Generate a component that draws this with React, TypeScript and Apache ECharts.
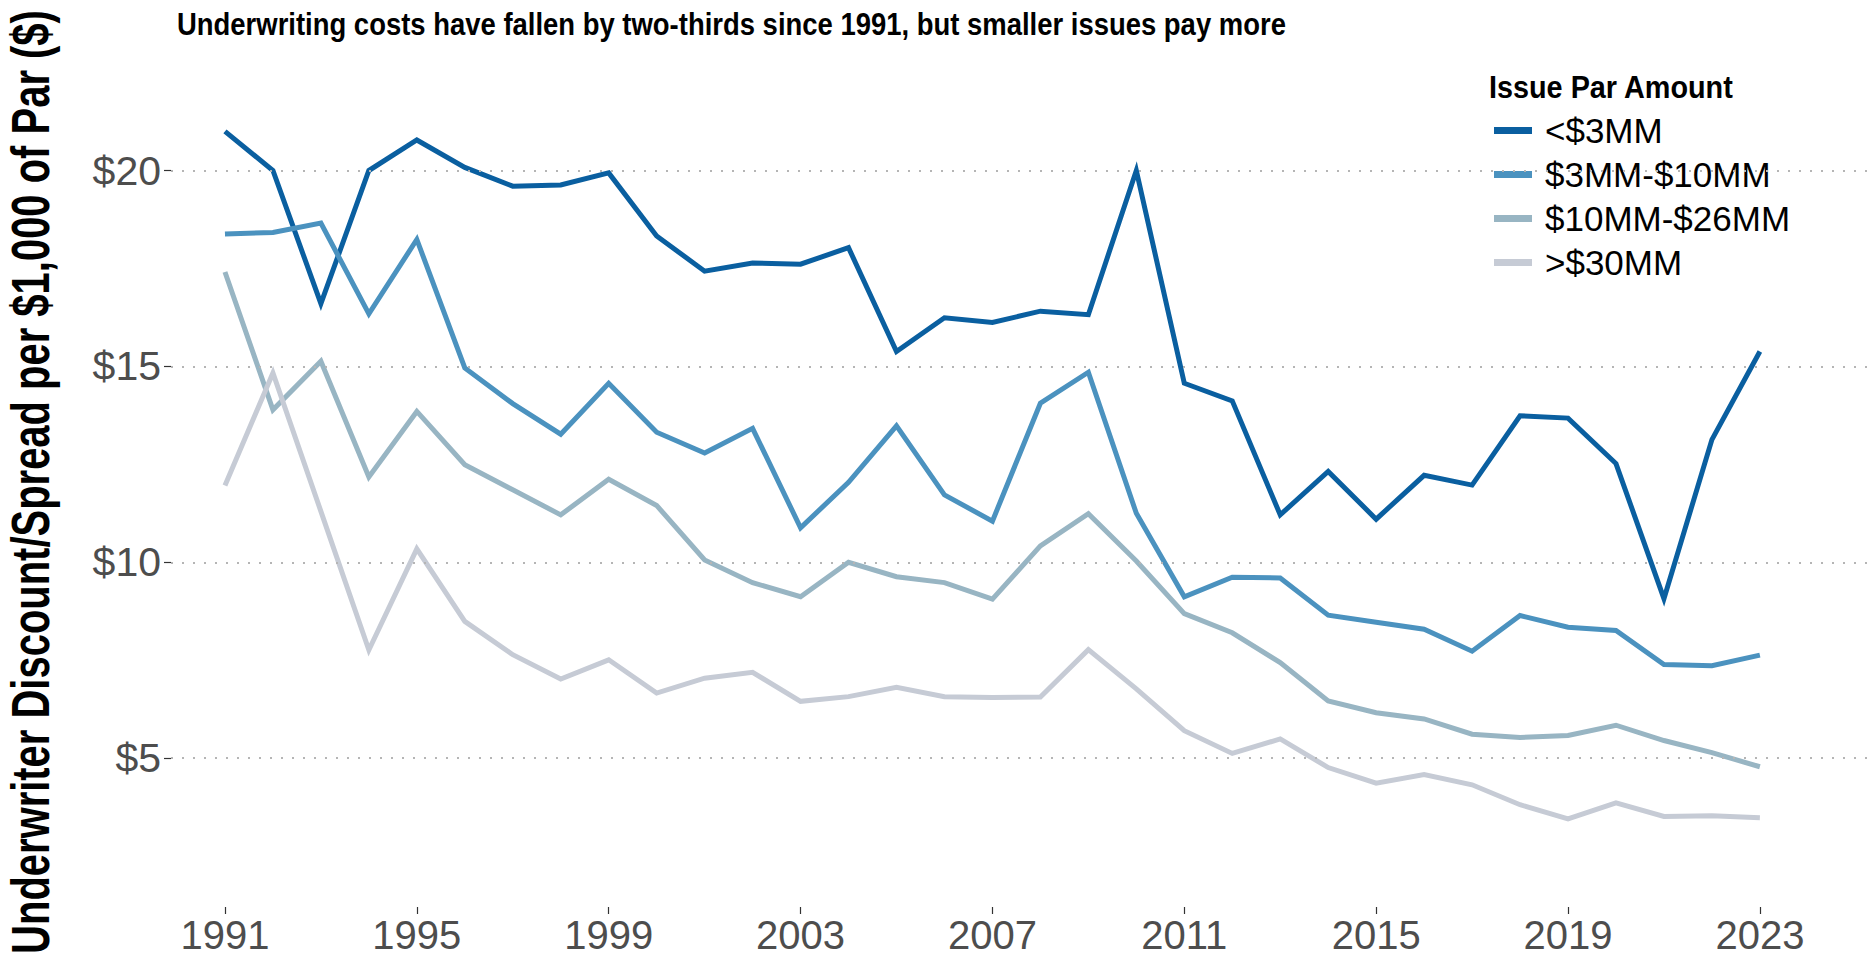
import React, { useEffect, useRef } from 'react';
import * as echarts from 'echarts';

const years = [
  1991, 1992, 1993, 1994, 1995, 1996, 1997, 1998, 1999, 2000, 2001,
  2002, 2003, 2004, 2005, 2006, 2007, 2008, 2009, 2010, 2011, 2012,
  2013, 2014, 2015, 2016, 2017, 2018, 2019, 2020, 2021, 2022, 2023,
];

const seriesNames = ['<$3MM', '$3MM-$10MM', '$10MM-$26MM', '>$30MM'];
const seriesColors = ['#0a5fa0', '#4b92bf', '#98b5c3', '#c6cbd5'];

const under3 = [
  21.0, 20.0, 16.6, 20.0, 20.78, 20.08, 19.6, 19.63, 19.94, 18.33, 17.43,
  17.64, 17.61, 18.03, 15.38, 16.24, 16.12, 16.41, 16.32, 20.0, 14.57, 14.12,
  11.21, 12.32, 11.1, 12.22, 11.97, 13.74, 13.68, 12.52, 9.07, 13.13, 15.38,
];
const from3to10 = [
  18.38, 18.42, 18.66, 16.34, 18.24, 14.96, 14.05, 13.27, 14.57, 13.32, 12.79,
  13.42, 10.88, 12.04, 13.48, 11.72, 11.05, 14.06, 14.85, 11.25, 9.12, 9.62,
  9.6, 8.65, 8.47, 8.29, 7.73, 8.64, 8.34, 8.26, 7.39, 7.36, 7.63,
];
const from10to26 = [
  17.41, 13.89, 15.13, 12.18, 13.85, 12.49, 11.85, 11.21, 12.12, 11.45, 10.06,
  9.48, 9.12, 10.0, 9.63, 9.48, 9.06, 10.42, 11.24, 10.03, 8.69, 8.2,
  7.44, 6.46, 6.16, 6.0, 5.61, 5.53, 5.58, 5.84, 5.45, 5.14, 4.78,
];
const over30 = [
  11.96, 14.83, 11.3, 7.76, 10.34, 8.49, 7.64, 7.02, 7.51, 6.66, 7.04,
  7.19, 6.45, 6.57, 6.81, 6.57, 6.55, 6.56, 7.77, 6.77, 5.7, 5.12,
  5.49, 4.76, 4.36, 4.58, 4.32, 3.81, 3.45, 3.86, 3.51, 3.53, 3.48,
];

const xTickValues = [1991, 1995, 1999, 2003, 2007, 2011, 2015, 2019, 2023];
const yTickValues = [5, 10, 15, 20];

const titleText =
  'Underwriting costs have fallen by two-thirds since 1991, but smaller issues pay more';
const yTitleText = 'Underwriter Discount/Spread per $1,000 of Par ($)';
const legendTitle = 'Issue Par Amount';

const FONT = "'Liberation Sans', Arial, sans-serif";

export default function App() {
  const ref = useRef<HTMLDivElement>(null);

  useEffect(() => {
    if (!ref.current) return;
    const chart = echarts.init(ref.current, undefined, { renderer: 'svg' });
    const allValues = [under3, from3to10, from10to26, over30];

    const lineSeries = allValues.map((vals, i) => ({
      name: seriesNames[i],
      type: 'line',
      data: years.map((y, j) => [y, vals[j]]),
      showSymbol: false,
      symbol: 'none',
      z: 3,
      lineStyle: { color: seriesColors[i], width: 5, join: 'miter' },
      itemStyle: { color: seriesColors[i] },
      emphasis: { disabled: true },
    }));

    const option: any = {
      animation: false,
      backgroundColor: '#ffffff',
      grid: { left: 171, right: 0, top: 53, bottom: 59, containLabel: false },
      xAxis: {
        type: 'value',
        min: 1989.875,
        max: 2025.4,
        splitLine: { show: false },
        axisLine: { show: false },
        axisTick: {
          show: true,
          length: 7,
          customValues: xTickValues,
          lineStyle: { color: '#333333', width: 1.2 },
        },
        axisLabel: {
          customValues: xTickValues,
          formatter: (v: number) => String(v),
          fontSize: 40,
          color: '#4d4d4d',
          fontFamily: FONT,
          margin: 8,
        },
      },
      yAxis: {
        type: 'value',
        min: 1.2,
        max: 23,
        splitLine: { show: false },
        axisLine: { show: false },
        axisTick: {
          show: true,
          length: 7,
          customValues: yTickValues,
          lineStyle: { color: '#333333', width: 1.2 },
        },
        axisLabel: {
          customValues: yTickValues,
          formatter: (v: number) => '$' + v,
          fontSize: 41,
          color: '#4d4d4d',
          fontFamily: FONT,
          margin: 10,
        },
      },
      legend: {
        orient: 'vertical',
        left: 1489,
        top: 108,
        itemWidth: 38,
        itemHeight: 7,
        itemGap: 9,
        icon: 'rect',
        data: seriesNames,
        textStyle: {
          fontSize: 35,
          color: '#000000',
          fontFamily: FONT,
          padding: [0, 0, 0, 8],
        },
        selectedMode: false,
      },
      series: [
        {
          name: 'grid',
          type: 'line',
          data: [[1991, 5]],
          symbol: 'none',
          z: 1,
          lineStyle: { opacity: 0 },
          silent: true,
          markLine: {
            silent: true,
            symbol: ['none', 'none'],
            label: { show: false },
            lineStyle: { type: [2, 9], color: '#b5b5b5', width: 2.2 },
            data: yTickValues.map((v) => ({ yAxis: v })),
          },
        },
        ...lineSeries,
      ],
      graphic: [
        {
          type: 'text',
          x: 177,
          y: 24,
          scaleX: 0.886,
          style: {
            text: titleText,
            fontSize: 31,
            fontWeight: 'bold',
            fontFamily: FONT,
            fill: '#000000',
            textVerticalAlign: 'middle',
          },
        },
        {
          type: 'text',
          x: 30,
          y: 482,
          rotation: Math.PI / 2,
          scaleX: 0.74,
          style: {
            text: yTitleText,
            fontSize: 54,
            fontWeight: 'bold',
            fontFamily: FONT,
            fill: '#000000',
            textAlign: 'center',
            textVerticalAlign: 'middle',
          },
        },
        {
          type: 'text',
          x: 1489,
          y: 86,
          scaleX: 0.9,
          style: {
            text: legendTitle,
            fontSize: 32,
            fontWeight: 'bold',
            fontFamily: FONT,
            fill: '#000000',
            textVerticalAlign: 'middle',
          },
        },
      ],
    };

    chart.setOption(option);
    return () => chart.dispose();
  }, []);

  return (
    <div
      ref={ref}
      style={{ position: 'fixed', left: 0, top: 0, width: 1875, height: 966 }}
    />
  );
}
